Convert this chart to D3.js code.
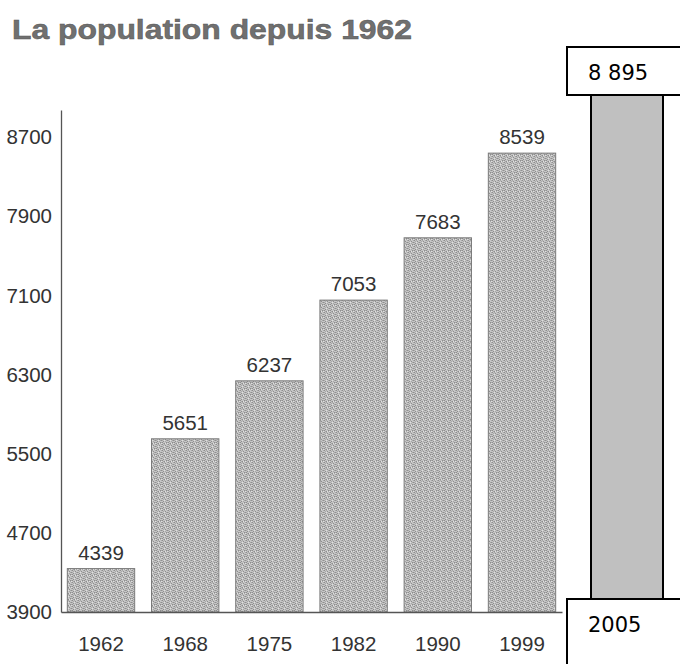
<!DOCTYPE html>
<html>
<head>
<meta charset="utf-8">
<script src="https://cdn.jsdelivr.net/npm/d3@7"></script>
<style>
  body { margin: 0; background: #fff; }
  svg { display: block; }
</style>
</head>
<body>
<div id="chart"></div>
<script>
// data
const years = ["1962", "1968", "1975", "1982", "1990", "1999"];
const population = [4339, 5651, 6237, 7053, 7683, 8539];
const yTicks = [3900, 4700, 5500, 6300, 7100, 7900, 8700];

// the added bar on the right
const extraYear = ["2005"];
const extraValue = [8895];

let width = 680, height = 664;

var svg = d3.select("#chart")
  .append("svg")
  .attr("width", width)
  .attr("height", height);

// stippled grey like the scan
var defs = svg.append("defs");
var pat = defs.append("pattern")
  .attr("id", "stipple")
  .attr("width", 6).attr("height", 6)
  .attr("patternUnits", "userSpaceOnUse");
pat.append("rect").attr("width", 6).attr("height", 6).attr("fill", "#c6c6c6");
[[0, 0], [3, 1], [5, 2], [1, 3], [4, 4], [2, 5], [0, 4]].forEach(p => {
  pat.append("rect").attr("x", p[0]).attr("y", p[1])
    .attr("width", 1).attr("height", 1).attr("fill", "#8e8e8e");
});
[[2, 0], [5, 0], [1, 1], [4, 2], [0, 2], [3, 3], [5, 4], [1, 5], [4, 5]].forEach(p => {
  pat.append("rect").attr("x", p[0]).attr("y", p[1])
    .attr("width", 1).attr("height", 1).attr("fill", "#a8a8a8");
});
[[2, 2], [5, 5], [3, 5]].forEach(p => {
  pat.append("rect").attr("x", p[0]).attr("y", p[1])
    .attr("width", 1).attr("height", 1).attr("fill", "#e0e0e0");
});

// title
svg.append("text")
  .attr("x", 12)
  .attr("y", 39)
  .attr("textLength", 400)
  .attr("lengthAdjust", "spacingAndGlyphs")
  .style("font-family", "'Liberation Sans', Arial, sans-serif")
  .style("font-weight", "bold")
  .style("font-size", "27px")
  .style("fill", "#707070")
  .style("stroke", "#555")
  .style("stroke-width", 0.5)
  .text("La population depuis 1962");

var x = d3.scaleBand()
  .domain(years)
  .range([61, 562])
  .paddingInner(0.2)
  .paddingOuter(0.075);

var y = d3.scaleLinear()
  .domain([3900, 8975])
  .range([612, 110]);

var numFont = "'Liberation Sans', Arial, sans-serif";

// y axis
var yAxis = svg.append("g")
  .attr("transform", "translate(61,0)")
  .call(d3.axisLeft(y).tickValues(yTicks).tickSize(0).tickPadding(9).tickFormat(d3.format("d")));
yAxis.select(".domain").attr("stroke", "#555").attr("stroke-width", 1.3);
yAxis.selectAll("text")
  .style("font-family", numFont)
  .style("font-size", "20.5px")
  .style("fill", "#333");

// bars
svg.selectAll("rect.bar")
  .data(years)
  .enter()
  .append("rect")
  .attr("class", "bar")
  .attr("x", d => x(d))
  .attr("width", x.bandwidth())
  .attr("y", (d, i) => y(population[i]))
  .attr("height", (d, i) => y(3900) - y(population[i]))
  .attr("fill", "url(#stipple)")
  .attr("stroke", "#7a7a7a")
  .attr("stroke-width", 1);

// value labels
svg.selectAll("text.val")
  .data(years)
  .enter()
  .append("text")
  .attr("class", "val")
  .attr("x", d => x(d) + x.bandwidth() / 2)
  .attr("y", (d, i) => y(population[i]) - 9)
  .attr("text-anchor", "middle")
  .style("font-family", numFont)
  .style("font-size", "20.5px")
  .style("fill", "#333")
  .text((d, i) => population[i]);

// x axis
var xAxis = svg.append("g")
  .attr("transform", "translate(0,612)")
  .call(d3.axisBottom(x).tickSize(0).tickPadding(24));
xAxis.select(".domain").attr("stroke", "#555").attr("stroke-width", 1.3);
xAxis.selectAll("text")
  .style("font-family", numFont)
  .style("font-size", "20.5px")
  .style("fill", "#333");

// 2005 addition, drawn on its own scale
var x2 = d3.scaleBand().domain(extraYear).range([591, 663]).padding(0);
var y2 = d3.scaleLinear().domain([0, extraValue[0]]).range([599, 95]);
var boxFont = "'DejaVu Sans', Verdana, sans-serif";

var extra = svg.append("g");

extra.selectAll("rect.xbar")
  .data(extraYear)
  .enter()
  .append("rect")
  .attr("class", "xbar")
  .attr("x", d => x2(d))
  .attr("width", x2.bandwidth())
  .attr("y", (d, i) => y2(extraValue[i]))
  .attr("height", (d, i) => y2(0) - y2(extraValue[i]))
  .attr("fill", "#c0c0c0")
  .attr("stroke", "#000")
  .attr("stroke-width", 2);

// top box with the value
extra.append("rect")
  .attr("x", 567).attr("y", y2(extraValue[0]) - 48)
  .attr("width", 130).attr("height", 48)
  .attr("fill", "#fff").attr("stroke", "#000").attr("stroke-width", 2);
extra.append("text")
  .attr("x", 588).attr("y", y2(extraValue[0]) - 15)
  .style("font-family", boxFont)
  .style("font-size", "21px")
  .style("fill", "#000")
  .text(d3.format(",")(extraValue[0]).replace(",", " "));

// bottom box with the year
extra.append("rect")
  .attr("x", 567).attr("y", y2(0))
  .attr("width", 130).attr("height", 80)
  .attr("fill", "#fff").attr("stroke", "#000").attr("stroke-width", 2);
extra.append("text")
  .attr("x", 588).attr("y", y2(0) + 33)
  .style("font-family", boxFont)
  .style("font-size", "21px")
  .style("fill", "#000")
  .text(extraYear[0]);
</script>
</body>
</html>
